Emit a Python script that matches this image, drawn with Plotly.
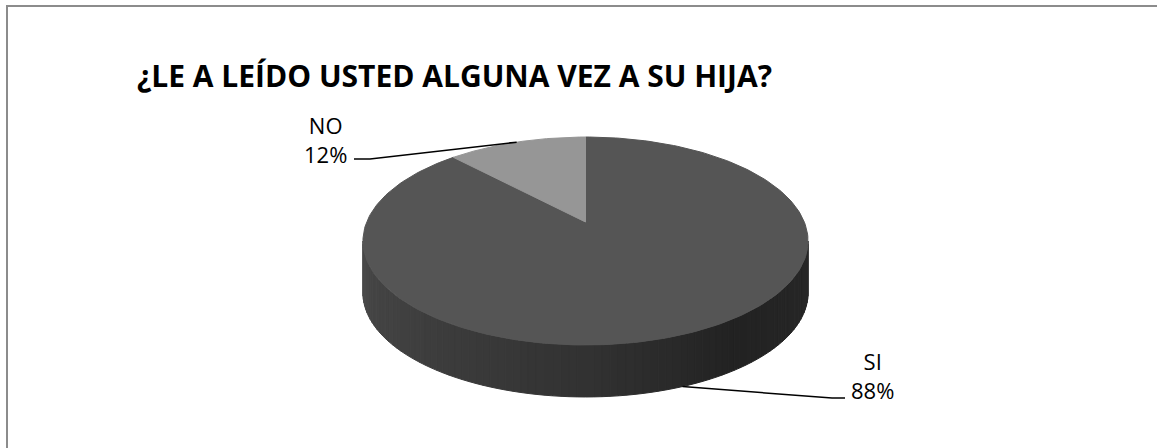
import numpy as np
import plotly.graph_objects as go

# ---- data ----
categories = ["SI", "NO"]
values = [88, 12]
top_colors = ["#555555", "#969696"]
title_text = "¿LE A LEÍDO USTED ALGUNA VEZ A SU HIJA?"

# ---- layout geometry (pixels) ----
W, H = 1157, 448
CX, CY = 585.5, 222.0        # projected pie centre
A, B, C = 218.8, 100.5, 0.1827  # perspective projection parameters
DEPTH = 52.0


def proj(deg, dz=0.0):
    r = np.radians(deg)
    u, v = np.cos(r), np.sin(r)
    k = 1.0 + C * v
    return CX + A * u / k, CY - B * v / k + dz


total = float(sum(values))
fracs = [v / total for v in values]
# slices go clockwise from 12 o'clock
starts, ends = [], []
acc = 0.0
for f in fracs:
    starts.append(90 - 360 * acc)
    acc += f
    ends.append(90 - 360 * acc)

fig = go.Figure()

# ---- side wall (front half), shaded strips ----
def side_shade(t):
    return float(np.interp(t, [0.0, 0.5, 0.72, 1.0], [74, 50, 34, 40]))

lo = 180 + np.degrees(np.arcsin(C))
hi = 360 - np.degrees(np.arcsin(C))
n = 90
angs = np.linspace(lo, hi, n + 1)
for i in range(n):
    a = np.linspace(angs[i], angs[i + 1], 3)
    xt, yt = proj(a)
    xb, yb = proj(a[::-1], DEPTH)
    xs = np.concatenate([xt, xb, xt[:1]])
    ys = np.concatenate([yt, yb, yt[:1]])
    t = ((angs[i] + angs[i + 1]) / 2 - lo) / (hi - lo)
    s = int(round(side_shade(t)))
    col = f"rgb({s},{s},{s})"
    fig.add_trace(go.Scatter(x=xs, y=ys, mode="lines", fill="toself",
                             fillcolor=col, line=dict(color=col, width=1),
                             hoverinfo="skip", showlegend=False))

# ---- top faces ----
for cat, st, en, col in zip(categories, starts, ends, top_colors):
    a = np.linspace(st, en, 240)
    xa, ya = proj(a)
    xs = np.concatenate([[CX], xa, [CX]])
    ys = np.concatenate([[CY], ya, [CY]])
    fig.add_trace(go.Scatter(x=xs, y=ys, mode="lines", fill="toself",
                             fillcolor=col, line=dict(color=col, width=1),
                             name=cat, hoverinfo="skip", showlegend=False))

# ---- labels and leader lines ----
label_font = dict(family="Open Sans", size=22, color="#000000")
mids = [(s + e) / 2 for s, e in zip(starts, ends)]

# SI (front, on side wall)
sx, sy = proj(mids[0], DEPTH)
fig.add_trace(go.Scatter(x=[sx, 832, 845], y=[sy, 398, 398], mode="lines",
                         line=dict(color="#000000", width=1.5),
                         hoverinfo="skip", showlegend=False))
fig.add_annotation(x=872, y=375, xref="x", yref="y", showarrow=False,
                   text=f"{categories[0]}<br>{values[0] / total * 100:.0f}%",
                   font=label_font, align="center")

# NO (back, on top face edge)
nx, ny = proj(mids[1])
fig.add_trace(go.Scatter(x=[nx, 370, 354], y=[ny, 159, 159], mode="lines",
                         line=dict(color="#000000", width=1.5),
                         hoverinfo="skip", showlegend=False))
fig.add_annotation(x=349, y=139, xref="x", yref="y", showarrow=False,
                   xanchor="right",
                   text=f"{categories[1]}<br>{values[1] / total * 100:.0f}%",
                   font=label_font, align="center")

# ---- title ----
fig.add_annotation(x=135, y=75, xref="x", yref="y", showarrow=False,
                   xanchor="left", yanchor="middle", text=title_text,
                   font=dict(family="Open Sans", size=30, color="#000000",
                             weight="bold"))

# ---- chart frame ----
fig.add_shape(type="rect", xref="x", yref="y", x0=7, y0=6, x1=W + 5, y1=H + 5,
              line=dict(color="#8c8c8c", width=2))

fig.update_layout(
    width=W, height=H, margin=dict(l=0, r=0, t=0, b=0),
    paper_bgcolor="white", plot_bgcolor="white",
    xaxis=dict(range=[0, W], visible=False, fixedrange=True),
    yaxis=dict(range=[H, 0], visible=False, fixedrange=True),
)

fig.write_html("out.html", config={"displayModeBar": False},
               post_script="document.body.style.margin='0';"
                           "document.body.style.overflow='hidden';")
